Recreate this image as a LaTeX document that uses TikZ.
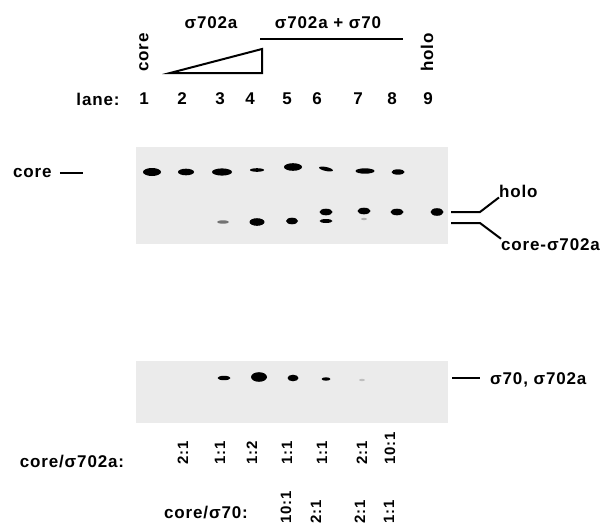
\documentclass[tikz,border=0pt]{standalone}
\usepackage{fontspec}
\setmainfont[LetterSpace=5]{Liberation Sans}
\definecolor{gelgray}{RGB}{235,235,235}
\tikzset{
	lbl/.style={font=\fontsize{17}{19}\selectfont\bfseries, inner sep=0pt},
	ratio/.style={font=\fontsize{15}{17}\selectfont\bfseries, inner sep=0pt, rotate=90, anchor=west},
	gel/.style={fill=gelgray, draw=none},
	band/.style={fill=black},
	barline/.style={line width=2pt}
}

\begin{document}
\begin{tikzpicture}[x=1pt,y=-1pt]
			\useasboundingbox (0,0) rectangle (606,525);
			% header
			\node[lbl] (sigA) at (211,23) {σ702a};
			\node[lbl] (sigAB) at (328,23) {σ702a + σ70};
			\draw[barline, line width=2.4pt] (260,39) -- (403,39);
			\node[lbl, rotate=90, anchor=west] (topcore) at (144,72) {core};
			\node[lbl, rotate=90, anchor=west] (topholo) at (427,72) {holo};
			\draw[barline, line join=miter] (170,73) -- (262,49) -- (262,73) -- cycle;
			% lanes
			\node[lbl] (lane) at (98,99) {lane:};
			\node[lbl] (l1) at (144,99) {1};
			\node[lbl] (l2) at (182,99) {2};
			\node[lbl] (l3) at (220,99) {3};
			\node[lbl] (l4) at (250,99) {4};
			\node[lbl] (l5) at (287,99) {5};
			\node[lbl] (l6) at (317,99) {6};
			\node[lbl] (l7) at (358,99) {7};
			\node[lbl] (l8) at (392,99) {8};
			\node[lbl] (l9) at (428,99) {9};
			% upper gel
			\fill[gel] (136,147) rectangle (448,244);
			\fill[band] (152,172) ellipse (9 and 4);
			\fill[band] (186,172) ellipse (8 and 3.3);
			\fill[band] (222,172) ellipse (10 and 3.6);
			\fill[band] (257,170) ellipse (7 and 1.8);
			\fill[band] (293,167) ellipse (9 and 3.8);
			\fill[band, rotate around={-12:(326,169)}] (326,169) ellipse (7 and 2);
			\fill[band] (365,171) ellipse (9.5 and 2.7);
			\fill[band] (398,172) ellipse (6.5 and 2.7);
			\fill[band] (326,212) ellipse (6.5 and 3.3);
			\fill[band] (364,211) ellipse (6.5 and 3.3);
			\fill[band] (397,212) ellipse (6.5 and 3.3);
			\fill[band] (437,212) ellipse (6.5 and 3.8);
			\fill[black!55] (223,222) ellipse (6 and 1.7);
			\fill[band] (257,222) ellipse (7.5 and 3.8);
			\fill[band] (292,221) ellipse (6 and 3.3);
			\fill[band] (326,221) ellipse (6.5 and 2);
			\fill[black!30] (364,219) ellipse (3 and 1.2);
			\node[lbl, anchor=west] (gelcore) at (13,173) {core};
			\draw[barline] (gelcore.east) ++(8,0) -- ++(23,0);
			\coordinate (holoend) at (451,212);
			\coordinate (cplxend) at (451,223);
			\node[lbl, anchor=west] (holo) at (499,191) {holo};
			\node[lbl, anchor=west] (cplx) at (501,245) {core-σ702a};
			\draw[barline] (holoend) -- ++(29,0) -- (holo.south west);
			\draw[barline] (cplxend) -- ++(29,0) -- (cplx.north west);
			% lower gel
			\fill[gel] (136,361) rectangle (448,423);
			\fill[band] (224,378) ellipse (6.5 and 2.2);
			\fill[band] (259,377) ellipse (8 and 4.8);
			\fill[band] (293,378) ellipse (5.5 and 3.3);
			\fill[band] (326,379) ellipse (4.5 and 1.7);
			\fill[black!25] (362,380) ellipse (3 and 1.2);
			\coordinate (sigend) at (452,378);
			\node[lbl, anchor=base west] (sigmas) at (490,384) {σ70, σ702a};
			\draw[barline] (sigend) -- ++(28,0);
			% ratios
			\node[lbl] (ratA) at (72,462) {core/σ702a:};
			\node[ratio] (a2) at (183,465) {2:1};
			\node[ratio] (a3) at (220,465) {1:1};
			\node[ratio] (a4) at (252,465) {1:2};
			\node[ratio] (a5) at (287,465) {1:1};
			\node[ratio] (a6) at (322,465) {1:1};
			\node[ratio] (a7) at (362,465) {2:1};
			\node[ratio] (a8) at (390,465) {10:1};
			\node[lbl] (ratB) at (206,513) {core/σ70:};
			\node[ratio] (b5) at (286,524) {10:1};
			\node[ratio] (b6) at (316,524) {2:1};
			\node[ratio] (b7) at (360,524) {2:1};
			\node[ratio] (b8) at (389,524) {1:1};
		\end{tikzpicture}
\end{document}
